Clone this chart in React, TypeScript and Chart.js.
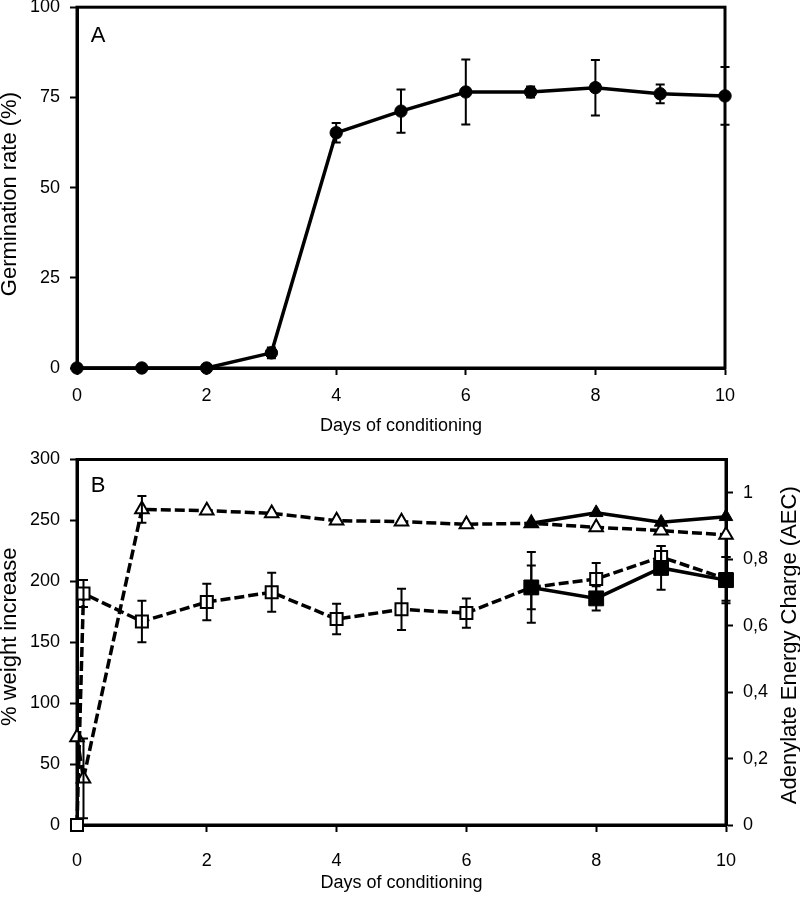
import React, { useEffect, useRef } from "react";
import { Chart, registerables } from "chart.js";

Chart.register(...registerables);

const FAMILY = "'Liberation Sans', Arial, sans-serif";
const FS = 18;
const TITLE_FS = 22;

// ---------- Panel A data ----------
const germDays = [0, 1, 2, 3, 4, 5, 6, 7, 8, 9, 10];
const germRate = [0, 0, 0, 4.2, 65.2, 71.2, 76.5, 76.5, 77.7, 76.0, 75.4];
const germErr = [0, 0, 0, 1.5, 2.7, 6, 9, 1.5, 7.7, 2.6, 8];
const germYTicks = [0, 25, 50, 75, 100];
const dayTicks = [0, 2, 4, 6, 8, 10];

// ---------- Panel B data ----------
const weightDaysOpen = [0, 0.1, 1, 2, 3, 4, 5, 6, 7, 8, 9, 10];
const weightOpen = [0, 190, 167, 183, 191, 169, 177, 174, 195, 202, 220, 202];
const weightOpenErr = [0, 11, 17, 15, 16, 12.5, 17, 12, 18, 13, 9, 18];
const weightDaysFilled = [7, 8, 9, 10];
const weightFilled = [195, 186, 211, 201];
const weightFilledErr = [29, 10, 18, 19];

const aecDaysOpen = [0, 0.1, 1, 2, 3, 4, 5, 6, 7, 8, 9, 10];
const aecOpen = [0.264, 0.14, 0.95, 0.946, 0.938, 0.916, 0.913, 0.905, 0.908, 0.896, 0.886, 0.873];
const aecOpenErr = [0, 0.12, 0.04, 0, 0, 0, 0, 0, 0, 0, 0, 0];
const aecDaysFilled = [7, 8, 9, 10];
const aecFilled = [0.908, 0.94, 0.911, 0.928];

const weightTicks = [0, 50, 100, 150, 200, 250, 300];
const aecTicks = [0, 0.2, 0.4, 0.6, 0.8, 1];

const pts = (xs: number[], ys: number[]) => xs.map((x, i) => ({ x, y: ys[i] }));

// error bars drawn through the library scales
const errorBarPlugin = {
  id: "errorBars",
  afterDatasetsDraw(chart: any) {
    const ctx = chart.ctx;
    chart.data.datasets.forEach((ds: any, di: number) => {
      if (!ds.errors) return;
      const meta = chart.getDatasetMeta(di);
      const yScale = chart.scales[meta.yAxisID];
      ctx.save();
      ctx.strokeStyle = "#000";
      ctx.lineWidth = 2;
      meta.data.forEach((el: any, i: number) => {
        const e = ds.errors[i];
        if (!e) return;
        const v = ds.data[i].y;
        const yt = yScale.getPixelForValue(v + e);
        const yb = yScale.getPixelForValue(v - e);
        const x = el.x;
        ctx.beginPath();
        ctx.moveTo(x, yt);
        ctx.lineTo(x, yb);
        ctx.moveTo(x - 4.5, yt);
        ctx.lineTo(x + 4.5, yt);
        ctx.moveTo(x - 4.5, yb);
        ctx.lineTo(x + 4.5, yb);
        ctx.stroke();
      });
      ctx.restore();
    });
  },
};

// frame, panel letter and rotated axis titles
const framePlugin = {
  id: "frame",
  beforeDatasetsDraw(chart: any) {
    const { ctx, chartArea } = chart;
    ctx.save();
    ctx.strokeStyle = "#000";
    ctx.lineWidth = 3;
    ctx.strokeRect(chartArea.left, chartArea.top, chartArea.right - chartArea.left, chartArea.bottom - chartArea.top);
    ctx.restore();
  },
  afterDraw(chart: any, _a: any, opts: any) {
    const { ctx, chartArea } = chart;
    ctx.save();
    ctx.fillStyle = "#000";
    ctx.textAlign = "center";
    ctx.textBaseline = "middle";
    if (opts.letter) {
      ctx.font = `${opts.letterSize}px ${FAMILY}`;
      ctx.fillText(opts.letter, chartArea.left + opts.letterDx, chartArea.top + opts.letterDy);
    }
    const mid = (chartArea.top + chartArea.bottom) / 2;
    (opts.vTitles || []).forEach((t: any) => {
      ctx.save();
      ctx.translate(t.x, mid + t.dy);
      ctx.rotate(-Math.PI / 2);
      ctx.font = `${TITLE_FS}px ${FAMILY}`;
      ctx.fillText(t.text, 0, 0);
      ctx.restore();
    });
    ctx.restore();
  },
};

const font = { family: FAMILY, size: FS };
const gridOpts = { drawOnChartArea: false, drawTicks: true, tickLength: 7, tickWidth: 2, tickColor: "#000" };
const borderOpts = { display: true, width: 3, color: "#000" };

function ChartA() {
  const ref = useRef<HTMLCanvasElement>(null);
  useEffect(() => {
    const chart = new Chart(ref.current!, {
      type: "line",
      data: {
        datasets: [
          {
            data: pts(germDays, germRate),
            errors: germErr,
            borderColor: "#000",
            borderWidth: 3.5,
            pointRadius: 6.2,
            pointBackgroundColor: "#000",
            pointBorderColor: "#000",
            pointBorderWidth: 1,
            tension: 0,
            clip: false,
          } as any,
        ],
      },
      options: {
        responsive: false,
        animation: false,
        events: [],
        layout: { padding: { left: 0, right: 75, top: 7, bottom: 0 } },
        plugins: {
          legend: { display: false },
          tooltip: { enabled: false },
          frame: {
            letter: "A",
            letterSize: 22,
            letterDx: 21,
            letterDy: 29,
            vTitles: [{ text: "Germination rate (%)", x: 9.5, dy: 6.5 }],
          },
        } as any,
        scales: {
          x: {
            type: "linear",
            min: 0,
            max: 10,
            afterBuildTicks: (s: any) => {
              s.ticks = dayTicks.map((v) => ({ value: v }));
            },
            afterFit: (s: any) => {
              s.height = 80;
              s.paddingLeft = 0;
              s.paddingRight = 0;
            },
            grid: gridOpts,
            border: borderOpts,
            ticks: { color: "#000", font, padding: 10, maxRotation: 0 },
            title: { display: true, text: "Days of conditioning", color: "#000", font, padding: { top: 0, bottom: 11 } },
          },
          y: {
            type: "linear",
            min: 0,
            max: 100,
            afterBuildTicks: (s: any) => {
              s.ticks = germYTicks.map((v) => ({ value: v }));
            },
            afterFit: (s: any) => {
              s.width = 77;
              s.paddingTop = 0;
              s.paddingBottom = 0;
            },
            grid: gridOpts,
            border: borderOpts,
            ticks: { color: "#000", font, padding: 10 },
          },
        },
      } as any,
      plugins: [errorBarPlugin, framePlugin],
    });
    return () => chart.destroy();
  }, []);
  return <canvas ref={ref} width={800} height={448} style={{ display: "block", position: "absolute", left: 0, top: 0 }} />;
}

function ChartB() {
  const ref = useRef<HTMLCanvasElement>(null);
  useEffect(() => {
    const dash = [10, 4];
    const chart = new Chart(ref.current!, {
      type: "line",
      data: {
        datasets: [
          {
            data: pts(weightDaysFilled, weightFilled),
            errors: weightFilledErr,
            yAxisID: "y",
            order: 0,
            borderColor: "#000",
            borderWidth: 3.5,
            pointStyle: "rect",
            pointRadius: 10.5,
            pointBackgroundColor: "#000",
            pointBorderColor: "#000",
            pointBorderWidth: 1,
            tension: 0,
            clip: false,
          },
          {
            data: pts(aecDaysFilled, aecFilled),
            yAxisID: "y1",
            order: 1,
            borderColor: "#000",
            borderWidth: 3.5,
            pointStyle: "triangle",
            pointRadius: 7.8,
            pointBackgroundColor: "#000",
            pointBorderColor: "#000",
            pointBorderWidth: 1,
            tension: 0,
            clip: false,
          },
          {
            data: pts(weightDaysOpen, weightOpen),
            errors: weightOpenErr,
            yAxisID: "y",
            order: 2,
            borderColor: "#000",
            borderWidth: 3.5,
            borderDash: dash,
            pointStyle: "rect",
            pointRadius: 8.5,
            pointBackgroundColor: "#fff",
            pointBorderColor: "#000",
            pointBorderWidth: 2,
            tension: 0,
            clip: false,
          },
          {
            data: pts(aecDaysOpen, aecOpen),
            errors: aecOpenErr,
            yAxisID: "y1",
            order: 3,
            borderColor: "#000",
            borderWidth: 3.5,
            borderDash: dash,
            pointStyle: "triangle",
            pointRadius: 7.8,
            pointBackgroundColor: "#fff",
            pointBorderColor: "#000",
            pointBorderWidth: 2,
            tension: 0,
            clip: false,
          },
        ] as any,
      },
      options: {
        responsive: false,
        animation: false,
        events: [],
        layout: { padding: { left: 0, right: 0, top: 11, bottom: 0 } },
        plugins: {
          legend: { display: false },
          tooltip: { enabled: false },
          frame: {
            letter: "B",
            letterSize: 22,
            letterDx: 21,
            letterDy: 26,
            vTitles: [
              { text: "% weight increase", x: 10, dy: -5.5 },
              { text: "Adenylate Energy Charge (AEC)", x: 790, dy: 3 },
            ],
          },
        } as any,
        scales: {
          x: {
            type: "linear",
            min: 0,
            max: 10,
            afterBuildTicks: (s: any) => {
              s.ticks = dayTicks.map((v) => ({ value: v }));
            },
            afterFit: (s: any) => {
              s.height = 72;
              s.paddingLeft = 0;
              s.paddingRight = 0;
            },
            grid: gridOpts,
            border: borderOpts,
            ticks: { color: "#000", font, padding: 18, maxRotation: 0 },
            title: { display: true, text: "Days of conditioning", color: "#000", font, padding: { top: 0, bottom: 3 } },
          },
          y: {
            type: "linear",
            position: "left",
            min: 0,
            max: 300,
            afterBuildTicks: (s: any) => {
              s.ticks = weightTicks.map((v) => ({ value: v }));
            },
            afterFit: (s: any) => {
              s.width = 77;
              s.paddingTop = 0;
              s.paddingBottom = 0;
            },
            grid: gridOpts,
            border: borderOpts,
            ticks: { color: "#000", font, padding: 10 },
          },
          y1: {
            type: "linear",
            position: "right",
            min: 0,
            max: 1.1,
            afterBuildTicks: (s: any) => {
              s.ticks = aecTicks.map((v) => ({ value: v }));
            },
            afterFit: (s: any) => {
              s.width = 74;
              s.paddingTop = 0;
              s.paddingBottom = 0;
            },
            grid: gridOpts,
            border: borderOpts,
            ticks: {
              color: "#000",
              font,
              padding: 10,
              callback: (v: any) => String(Math.round(Number(v) * 10) / 10).replace(".", ","),
            },
          },
        },
      } as any,
      plugins: [errorBarPlugin, framePlugin],
    });
    return () => chart.destroy();
  }, []);
  return <canvas ref={ref} width={800} height={449} style={{ display: "block", position: "absolute", left: 0, top: 448 }} />;
}

export default function App() {
  return (
    <div style={{ position: "absolute", left: 0, top: 0, width: 800, height: 897, background: "#fff" }}>
      <ChartA />
      <ChartB />
    </div>
  );
}
